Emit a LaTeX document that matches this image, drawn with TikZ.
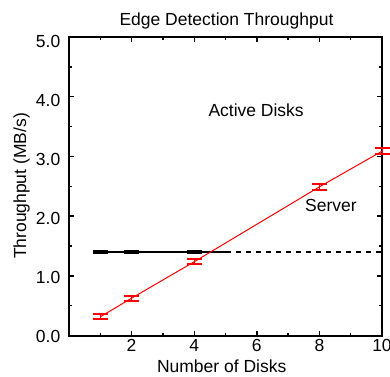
\documentclass[tikz,border=0pt]{standalone}
\usepackage{fontspec}
\setmainfont{Liberation Sans}
\begin{document}
\begin{tikzpicture}[x=1bp,y=-1bp,
  every node/.style={inner sep=0pt,font=\fontsize{17.56}{21}\selectfont},
  axisline/.style={line width=2bp,black},
  tickline/.style={line width=1.4bp,black},
  serverline/.style={red,line width=1bp},
  capline/.style={red,line width=2bp},
  activeline/.style={black,line width=2bp},
  activemark/.style={black,line width=4bp}]
\useasboundingbox (0,0) rectangle (390,377);
% labels
\node[anchor=base] (title) at (226.5,25) {Edge Detection Throughput};
\node[anchor=base] (xlab) at (221.7,372.7) {Number of Disks};
\node[anchor=base,rotate=90] (ylab) at (26,186) {Throughput (MB/s)};
\node[anchor=base west] (alab) at (208.3,116) {Active Disks};
\node[anchor=base west] (slab) at (305,211) {Server};
\foreach \v/\b in {0/342.0,1/283.1,2/224.2,3/165.3,4/106.4,5/47.5}
  \node[anchor=base east] (yt\v) at (60.5,\b) {\v.0};
\foreach \u/\xx in {2/131.6,4/194.2,6/256.8,8/319.4,10/382}
  \node[anchor=base] (xt\u) at (\xx,351.7) {\u};
\begin{scope}[shift={(69,335.5)},x=31.3bp,y=59.7bp]
  \draw[axisline] (0,0) rectangle (10,5);
  \foreach \u in {1,...,9}{
    \pgfmathsetmacro\len{ifthenelse(mod(\u,2)==0,5,3)}
    \draw[tickline] (\u,0) -- ++(0,\len bp);
    \draw[tickline] (\u,5) -- ++(0,-\len bp);
  }
  \foreach \v in {1,...,9}{
    \pgfmathsetmacro\len{ifthenelse(mod(\v,2)==0,5,3)}
    \draw[tickline] (0,\v/2) -- ++(\len bp,0);
    \draw[tickline] (10,\v/2) -- ++(-\len bp,0);
  }
  % Active Disks
  \coordinate (a1) at (1,1.405);
  \coordinate (a2) at (2,1.405);
  \coordinate (a4) at (4,1.405);
  \coordinate (a5) at (5,1.405);
  \coordinate (a10) at (10,1.405);
  \draw[activeline] (a1) -- (a5);
  \draw[activeline,dash pattern=on 5bp off 5bp] (a5) -- (a10);
  \foreach \p in {a1,a2,a4}
    \draw[activemark] ([xshift=-7.5bp]\p) -- ([xshift=7.5bp]\p);
  % Server
  \coordinate (s1) at (1,0.313);
  \coordinate (s2) at (2,0.625);
  \coordinate (s4) at (4,1.235);
  \coordinate (s8) at (8,2.49);
  \coordinate (s10) at (10,3.087);
  \draw[serverline] (s1) -- (s2) -- (s4) -- (s8) -- (s10);
  \foreach \p/\e in {s1/2.5,s2/2.5,s4/2.5,s8/3.3,s10/2.8}{
    \draw[serverline] ([yshift=-\e bp]\p) -- ([yshift=\e bp]\p);
    \draw[capline] ([xshift=-7.5bp,yshift=-\e bp]\p) -- ([xshift=7.5bp,yshift=-\e bp]\p);
    \draw[capline] ([xshift=-7.5bp,yshift=\e bp]\p) -- ([xshift=7.5bp,yshift=\e bp]\p);
  }
\end{scope}
\end{tikzpicture}
\end{document}
